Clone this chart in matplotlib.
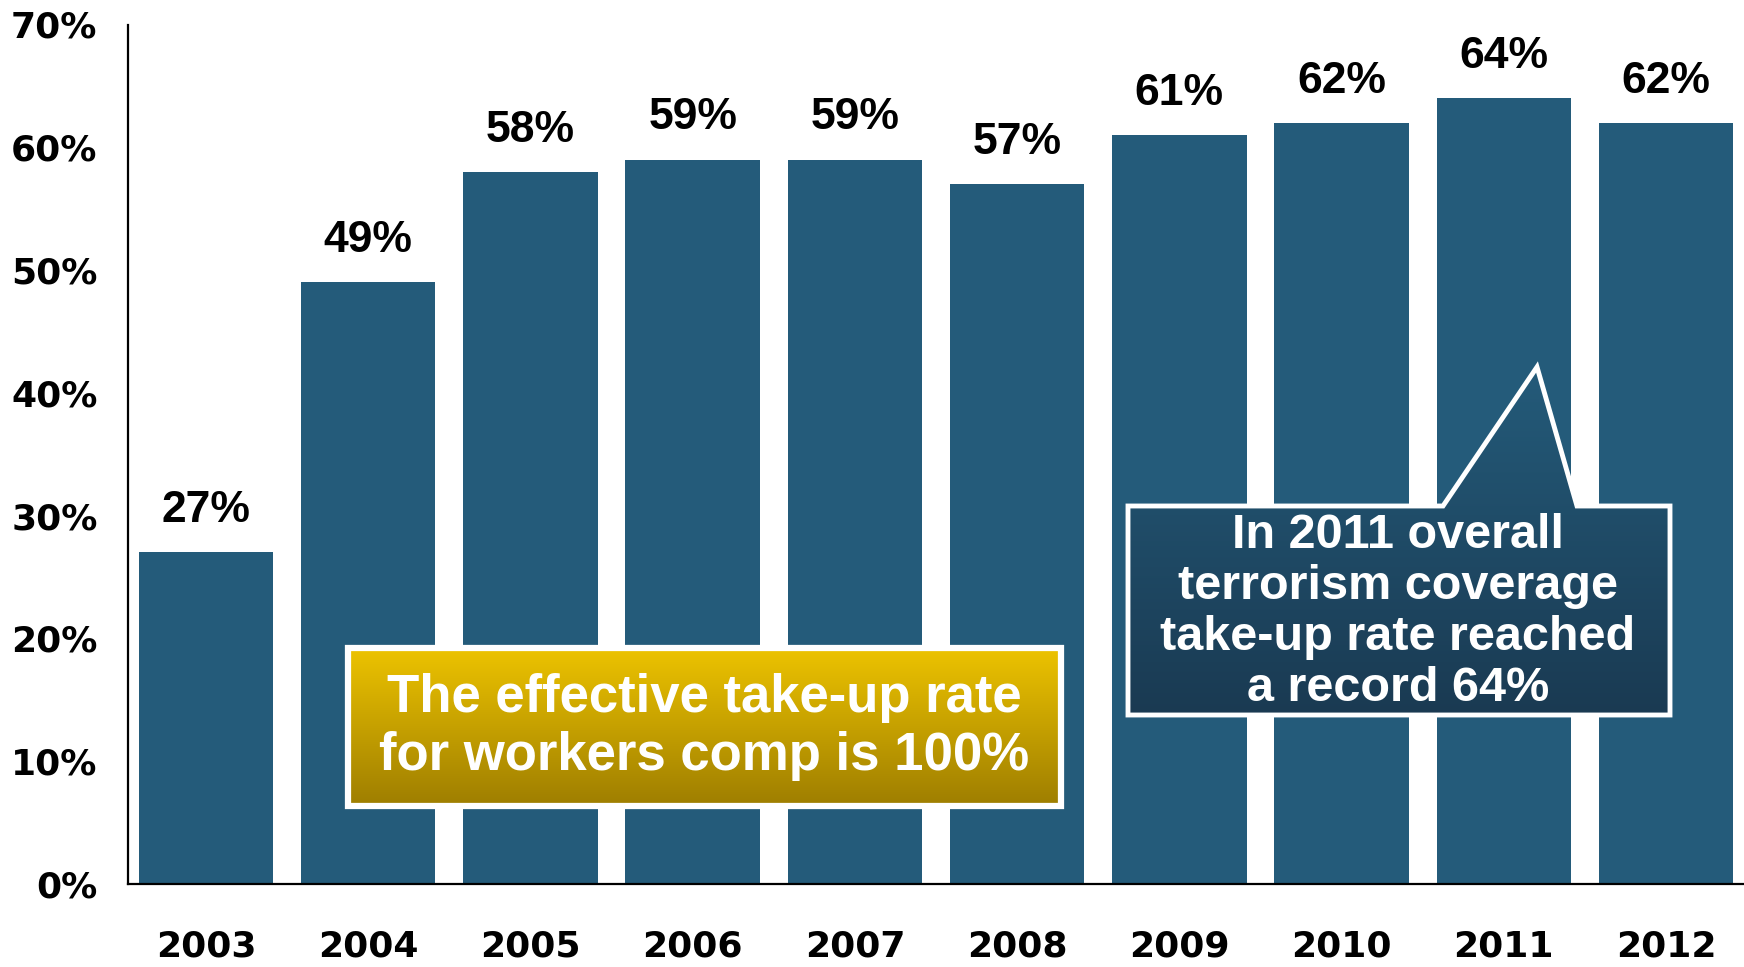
import matplotlib.pyplot as plt
import numpy as np
from matplotlib.patches import Polygon, Rectangle
from matplotlib.colors import LinearSegmentedColormap

years = ['2003', '2004', '2005', '2006', '2007', '2008', '2009', '2010', '2011', '2012']
take_up = [27, 49, 58, 59, 59, 57, 61, 62, 64, 62]
y_ticks = [0, 10, 20, 30, 40, 50, 60, 70]

bar_color = '#245B7A'
W, H = 1744, 967

fig = plt.figure(figsize=(W / 100, H / 100), dpi=100)
ax = fig.add_axes([128 / W, 1 - 884 / H, 1 - 128 / W, (884 - 24.5) / H])

x = np.arange(len(years))
bars = ax.bar(x, take_up, width=0.83, color=bar_color, zorder=2)

for xi, v in zip(x, take_up):
    ax.annotate(f'{v}%', xy=(xi, v), xytext=(0, 30), textcoords='offset points',
                ha='center', va='center', fontsize=32, fontweight='bold',
                family='Liberation Sans')

ax.set_xlim(-0.48, len(years) - 0.52)
ax.set_ylim(0, 70)
ax.set_yticks(y_ticks)
ax.set_yticklabels([f'{t}%' for t in y_ticks], fontsize=26, fontweight='bold',
                   family='DejaVu Sans')
ax.set_xticks(x)
ax.set_xticklabels(years, fontsize=26, fontweight='bold', family='DejaVu Sans')
ax.tick_params(axis='y', length=0, pad=22)
ax.tick_params(axis='x', length=0, pad=33)
for s in ['top', 'right']:
    ax.spines[s].set_visible(False)
for s in ['left', 'bottom']:
    ax.spines[s].set_linewidth(1.6)

# overlay in pixel coordinates for the two call-out boxes
ov = fig.add_axes([0, 0, 1, 1], zorder=5)
ov.set_xlim(0, W)
ov.set_ylim(H, 0)
ov.axis('off')
ov.patch.set_alpha(0)


def gradient_fill(path_patch, x0, x1, y0, y1, top, bottom):
    cmap = LinearSegmentedColormap.from_list('g', [top, bottom])
    grad = np.linspace(0, 1, 256).reshape(-1, 1)
    im = ov.imshow(grad, cmap=cmap, extent=(x0, x1, y1, y0), aspect='auto',
                   zorder=1, interpolation='bicubic')
    im.set_clip_path(path_patch)


# gold box
gold = Rectangle((348, 648), 1061 - 348, 806 - 648, facecolor='none',
                 edgecolor='white', linewidth=4.5, zorder=2)
ov.add_patch(gold)
gradient_fill(gold, 348, 1061, 648, 806, '#EDC300', '#9E7E00')
ov.text(704, 727, 'The effective take-up rate\nfor workers comp is 100%',
        ha='center', va='center', color='white', fontsize=38, fontweight='bold',
        family='Liberation Sans', linespacing=1.22, zorder=3)

# navy call-out pointing at the 2011 bar
pts = [(1128, 506), (1443, 506), (1537, 367), (1577, 506), (1670, 506),
       (1670, 715), (1128, 715)]
callout = Polygon(pts, closed=True, facecolor='none', edgecolor='white',
                  linewidth=3.5, joinstyle='miter', zorder=2)
ov.add_patch(callout)
gradient_fill(callout, 1128, 1670, 367, 715, '#245B7A', '#1A3A52')
ov.text(1398, 612, 'In 2011 overall\nterrorism coverage\ntake-up rate reached\na record 64%',
        ha='center', va='center', color='white', fontsize=35, fontweight='bold',
        family='Liberation Sans', linespacing=1.17, zorder=3)

fig.savefig('out.png', dpi=100)
